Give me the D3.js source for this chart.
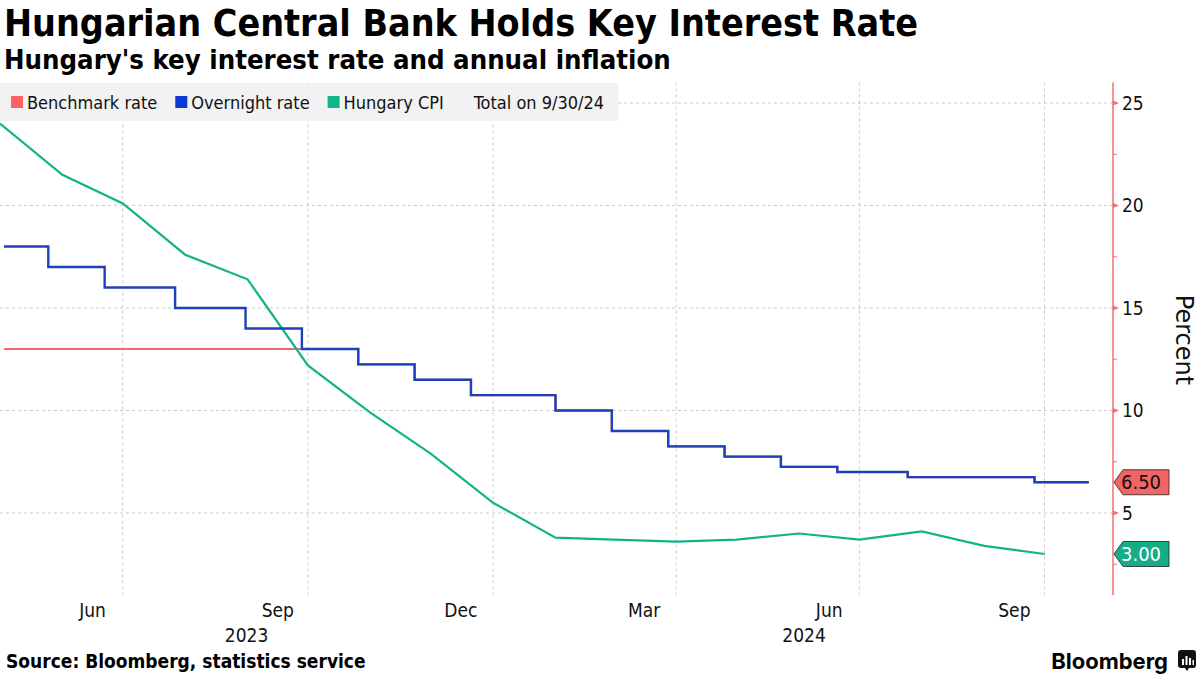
<!DOCTYPE html>
<html><head><meta charset="utf-8">
<script src="https://cdn.jsdelivr.net/npm/d3@7"></script>
<style>
body{margin:0;background:#fff;}
text{font-family:"DejaVu Sans",sans-serif;font-stretch:condensed;}
</style></head><body>
<svg id="c" width="1200" height="675" xmlns="http://www.w3.org/2000/svg"></svg>
<script>
// ---- data ----
const cpiDates = ["2023-04-30","2023-05-31","2023-06-30","2023-07-31","2023-08-31","2023-09-30","2023-10-31","2023-11-30","2023-12-31","2024-01-31","2024-02-29","2024-03-31","2024-04-30","2024-05-31","2024-06-30","2024-07-31","2024-08-31","2024-09-30"];
const cpiValues = [24.0,21.5,20.1,17.6,16.4,12.2,9.9,7.9,5.5,3.8,3.7,3.6,3.7,4.0,3.7,4.1,3.4,3.0];
const rateDates = ["2023-05-02","2023-05-24","2023-06-21","2023-07-26","2023-08-30","2023-09-27","2023-10-25","2023-11-22","2023-12-20","2024-01-31","2024-02-28","2024-03-27","2024-04-24","2024-05-22","2024-06-19","2024-07-24","2024-09-25","2024-10-22"];
const benchmarkValues = [13,13,13,13,13,13,12.25,11.5,10.75,10,9,8.25,7.75,7.25,7,6.75,6.5,6.5];
const overnightValues = [18,17,16,15,14,13,12.25,11.5,10.75,10,9,8.25,7.75,7.25,7,6.75,6.5,6.5];
const monthTicks = ["2023-06-01","2023-09-01","2023-12-01","2024-03-01","2024-06-01","2024-09-01"];
const yearTicks = ["2023","2024"];
const yTicks = [5,10,15,20,25];
const yMinorTicks = [2.5,7.5,12.5,17.5,22.5];
const seriesNames = ["Benchmark rate","Overnight rate","Hungary CPI"];
const legendNote = "Total on 9/30/24";
const lastLabels = [{name:"Benchmark rate", value:6.50},{name:"Hungary CPI", value:3.00}];

const colors = {"Benchmark rate":"#f4686a","Overnight rate":"#1f40bb","Hungary CPI":"#14b28a"};
const legendColors = {"Benchmark rate":"#fa6464","Overnight rate":"#0a3bd0","Hungary CPI":"#13b48a"};

const parse = d3.timeParse("%Y-%m-%d");
const svg = d3.select("#c");

const plotL = 0, plotR = 1113, plotT = 82.5, plotB = 595;
const x = d3.scaleTime().domain([parse("2023-04-30"), parse("2024-11-03")]).range([plotL, plotR]);
const y = d3.scaleLinear().domain([1, 26]).range([plotB, plotT]);

// titles
svg.append("text").attr("x",4).attr("y",36).attr("font-size",37.3).attr("font-weight","bold")
  .attr("fill","#000").text("Hungarian Central Bank Holds Key Interest Rate");
svg.append("text").attr("x",4).attr("y",69).attr("font-size",27.3).attr("font-weight","bold")
  .attr("fill","#000").text("Hungary's key interest rate and annual inflation");

// gridlines
const grid = svg.append("g");
grid.selectAll("line.h").data(yTicks).join("line")
  .attr("x1",plotL).attr("x2",plotR).attr("y1",d=>y(d)).attr("y2",d=>y(d))
  .attr("stroke","#c9c9c9").attr("stroke-dasharray","3,3");
const monthEnds = monthTicks.map(s => d3.timeDay.offset(d3.timeMonth.offset(parse(s),1),-1));
grid.selectAll("line.v").data(monthEnds).join("line")
  .attr("x1",d=>x(d)).attr("x2",d=>x(d)).attr("y1",plotT).attr("y2",plotB)
  .attr("stroke","#c9c9c9").attr("stroke-dasharray","3,3");

// legend
const lg = svg.append("g");
const lgBg = lg.append("rect").attr("x",0).attr("y",83).attr("height",38).attr("fill","#f0f0f0").attr("opacity",0.88);
let lx = 11;
seriesNames.forEach(n => {
  lg.append("rect").attr("x",lx).attr("y",96).attr("width",12).attr("height",12).attr("fill",legendColors[n]);
  const t = lg.append("text").attr("x",lx+16).attr("y",108.5).attr("font-size",18).attr("fill","#111").text(n);
  lx += 16 + t.node().getComputedTextLength() + 18;
});
const nt = lg.append("text").attr("x",lx+12).attr("y",108.5).attr("font-size",18).attr("fill","#111").text(legendNote);
lgBg.attr("width", lx + 12 + nt.node().getComputedTextLength() + 14);

// lines
const clip = svg.append("clipPath").attr("id","clp").append("rect")
  .attr("x",plotL).attr("y",plotT-5).attr("width",plotR-plotL).attr("height",plotB-plotT+5);
const lineStep = d3.line().x(d=>x(d[0])).y(d=>y(d[1])).curve(d3.curveStepAfter);
const lineLin = d3.line().x(d=>x(d[0])).y(d=>y(d[1]));
const pl = svg.append("g").attr("clip-path","url(#clp)");
pl.append("path").datum(rateDates.map((d,i)=>[parse(d),benchmarkValues[i]]))
  .attr("d",lineStep).attr("fill","none").attr("stroke",colors["Benchmark rate"]).attr("stroke-width",2.2);
pl.append("path").datum(cpiDates.map((d,i)=>[parse(d),cpiValues[i]]))
  .attr("d",lineLin).attr("fill","none").attr("stroke",colors["Hungary CPI"]).attr("stroke-width",2.2);
pl.append("path").datum(rateDates.map((d,i)=>[parse(d),overnightValues[i]]))
  .attr("d",lineStep).attr("fill","none").attr("stroke",colors["Overnight rate"]).attr("stroke-width",2.4);

// right axis
const ax = svg.append("g");
ax.append("line").attr("x1",plotR).attr("x2",plotR).attr("y1",plotT).attr("y2",plotB)
  .attr("stroke","#f07070").attr("stroke-width",1.5);
ax.selectAll("path.tk").data(yTicks).join("path")
  .attr("d",d=>`M${plotR},${y(d)-2.5}L${plotR+6},${y(d)}L${plotR},${y(d)+2.5}Z`).attr("fill","#f07070");
ax.selectAll("line.mn").data(yMinorTicks).join("line")
  .attr("x1",plotR).attr("x2",plotR+4).attr("y1",d=>y(d)).attr("y2",d=>y(d)).attr("stroke","#f07070");
ax.selectAll("text.tl").data(yTicks).join("text")
  .attr("x",plotR+9).attr("y",d=>y(d)).attr("dy","0.36em").attr("font-size",19).attr("fill","#111").text(d=>d);
svg.append("text").attr("transform","translate(1176,340) rotate(90)").attr("text-anchor","middle")
  .attr("font-size",24).attr("fill","#111").style("font-stretch","normal").text("Percent");

// last value labels
lastLabels.forEach(l => {
  const yy = y(l.value);
  const fill = l.name === "Hungary CPI" ? "#15ad86" : "#f26566";
  svg.append("path").attr("d",`M${plotR+1},${yy}L${plotR+10},${yy-12.5}H1169V${yy+12.5}H${plotR+10}Z`)
    .attr("fill",fill).attr("stroke","#222").attr("stroke-width",0.8);
  svg.append("text").attr("x",1141).attr("y",yy).attr("dy","0.36em").attr("text-anchor","middle")
    .attr("font-size",20).attr("fill", l.name === "Hungary CPI" ? "#fff" : "#111").text(l.value.toFixed(2));
});

// x axis labels
const fmtM = d3.timeFormat("%b");
svg.selectAll("text.m").data(monthTicks.map(parse)).join("text")
  .attr("x",d=>x(d3.timeDay.offset(d,14))).attr("y",617).attr("text-anchor","middle")
  .attr("font-size",19).attr("fill","#111").text(d=>fmtM(d));
const [d0,d1] = x.domain();
svg.selectAll("text.yr").data(yearTicks).join("text")
  .attr("x",d=>{const a=d3.max([d0,new Date(+d,0,1)]); const b=d3.min([d1,new Date(+d,11,31)]); return (x(a)+x(b))/2;})
  .attr("y",642).attr("text-anchor","middle").attr("font-size",19).attr("fill","#111").text(d=>d);

// footer
svg.append("text").attr("x",6).attr("y",668).attr("font-size",19).attr("font-weight","bold")
  .attr("fill","#000").text("Source: Bloomberg, statistics service");
svg.append("text").attr("x",1168).attr("y",669).attr("text-anchor","end").attr("font-size",22)
  .attr("font-weight","bold").style("font-family","Inter, sans-serif").style("font-stretch","normal")
  .attr("fill","#000").text("Bloomberg");
const logo = svg.append("g").attr("transform","translate(1178,650)");
logo.append("rect").attr("width",18).attr("height",18).attr("rx",3).attr("fill","#111");
logo.append("path").attr("d","M7,18 L9,21 L11,18Z").attr("fill","#111");
[[4,9,2,6],[7.5,6,2,9],[11,8,2,7],[14.5,10,1.5,5]].forEach(b=>logo.append("rect").attr("x",b[0]).attr("y",b[1]).attr("width",b[2]).attr("height",b[3]).attr("fill","#fff"));
</script>
</body></html>
